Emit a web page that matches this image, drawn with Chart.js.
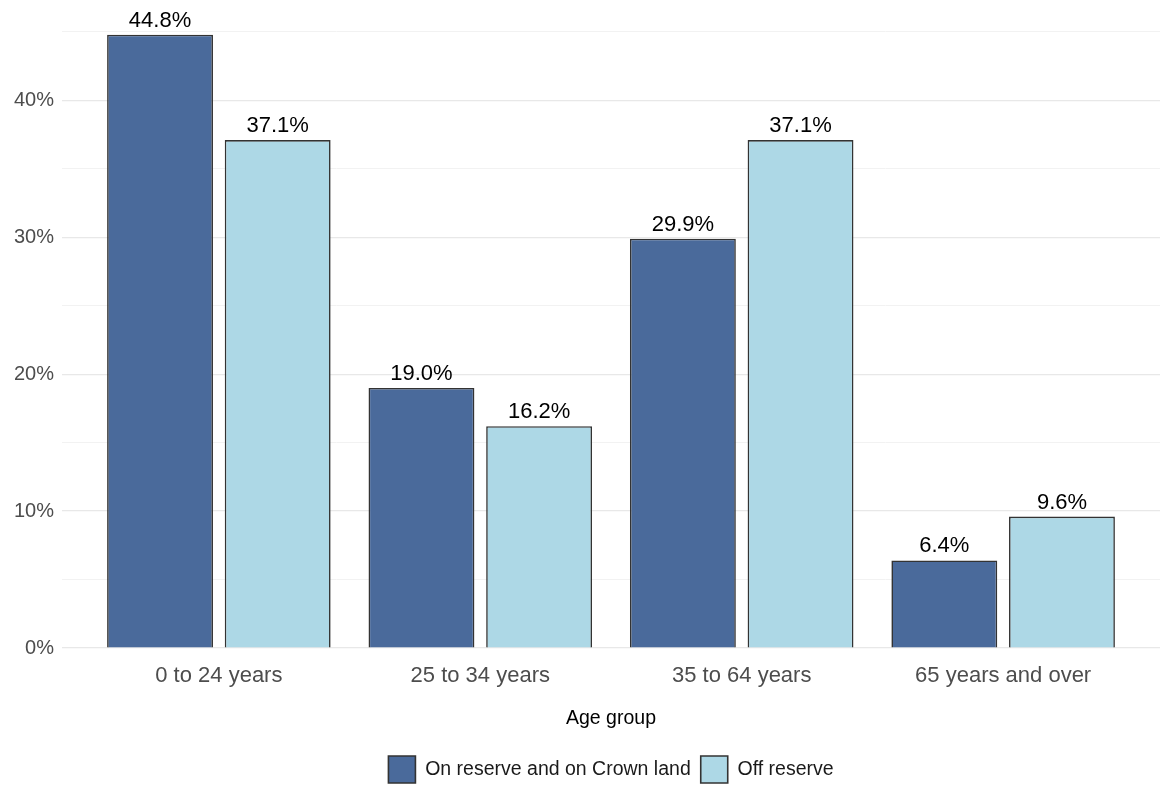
<!DOCTYPE html>
<html>
<head>
<meta charset="utf-8">
<script src="https://cdn.jsdelivr.net/npm/chart.js@4"></script>
<style>
  html, body { margin: 0; padding: 0; background: #fff; }
  #wrap { width: 1170px; height: 797px; }
</style>
</head>
<body>
<div id="wrap"><canvas id="ageChart"></canvas></div>
<script>
// data
const categories = ['0 to 24 years', '25 to 34 years', '35 to 64 years', '65 years and over'];
const onReserve = [44.8, 19.0, 29.9, 6.4];
const offReserve = [37.1, 16.2, 37.1, 9.6];
const seriesNames = ['On reserve and on Crown land', 'Off reserve'];
const yTickValues = [0, 10, 20, 30, 40];

const FONT = "'Liberation Sans', Arial, sans-serif";

// value labels above each bar
const barLabels = {
    id: 'barLabels',
    afterDatasetsDraw(chart) {
        const ctx = chart.ctx;
        ctx.save();
        ctx.font = '22px ' + FONT;
        ctx.fillStyle = '#000';
        ctx.textAlign = 'center';
        ctx.textBaseline = 'alphabetic';
        chart.data.datasets.forEach((ds, di) => {
            chart.getDatasetMeta(di).data.forEach((bar, i) => {
                ctx.fillText(ds.data[i].y.toFixed(1) + '%', bar.x, bar.y - 8);
            });
        });
        ctx.restore();
    }
};

// centre the legend on the plot panel instead of the whole canvas
const legendOnPanel = {
    id: 'legendOnPanel',
    afterLayout(chart) {
        const lg = chart.legend, area = chart.chartArea;
        const shift = (area.left + area.right) / 2 - (lg.left + lg.right) / 2;
        lg.left += shift;
        lg.right += shift;
    }
};

const ctx = document.getElementById('ageChart').getContext('2d');
new Chart(ctx, {
    type: 'bar',
    data: {
        datasets: [{
            label: seriesNames[0],
            data: onReserve.map((v, i) => ({ x: i, y: v })),
            backgroundColor: '#4a6a9b',
            borderColor: '#333333',
            borderWidth: 1.6,
            categoryPercentage: 0.9,
            barPercentage: 0.9
        }, {
            label: seriesNames[1],
            data: offReserve.map((v, i) => ({ x: i, y: v })),
            backgroundColor: '#add8e6',
            borderColor: '#333333',
            borderWidth: 1.6,
            categoryPercentage: 0.9,
            barPercentage: 0.9
        }]
    },
    options: {
        responsive: true,
        maintainAspectRatio: false,
        animation: false,
        layout: { padding: { top: 4, right: 10, left: 0, bottom: 4 } },
        plugins: {
            legend: {
                position: 'bottom',
                labels: {
                    boxWidth: 27,
                    boxHeight: 27,
                    padding: 10,
                    color: '#1a1a1a',
                    font: { family: FONT, size: 19.5 }
                }
            },
            tooltip: { enabled: false }
        },
        scales: {
            x: {
                type: 'linear',
                min: -0.6,
                max: 3.6,
                offset: false,
                ticks: {
                    stepSize: 1,
                    color: '#4d4d4d',
                    font: { family: FONT, size: 22 },
                    padding: 7,
                    maxRotation: 0,
                    callback: v => categories[v]
                },
                afterBuildTicks: s => { s.ticks = s.ticks.filter(t => Number.isInteger(t.value) && t.value >= 0 && t.value < categories.length); },
                grid: { display: false },
                border: { display: false },
                title: {
                    display: true,
                    text: 'Age group',
                    color: '#000',
                    font: { family: FONT, size: 19.5 },
                    padding: { top: 14, bottom: 16 }
                },
                afterFit: s => { s.height = 98; s.paddingLeft = 0; s.paddingRight = 0; }
            },
            y: {
                min: 0,
                max: 47.04,
                ticks: {
                    stepSize: 5,
                    color: '#4d4d4d',
                    font: { family: FONT, size: 20 },
                    padding: 8,
                    callback: v => yTickValues.includes(v) ? v + '%' : ''
                },
                afterBuildTicks: s => { s.ticks = s.ticks.filter(t => Math.abs(t.value % 5) < 1e-9); },
                grid: {
                    drawTicks: false,
                    color: c => (c.tick && c.tick.value % 10 === 0) ? '#e8e8e8' : '#f2f2f2',
                    lineWidth: c => (c.tick && c.tick.value % 10 === 0) ? 1.2 : 1
                },
                border: { display: false },
                afterFit: s => { s.width = 62; s.paddingTop = 0; s.paddingBottom = 0; }
            }
        }
    },
    plugins: [barLabels, legendOnPanel]
});
</script>
</body>
</html>
